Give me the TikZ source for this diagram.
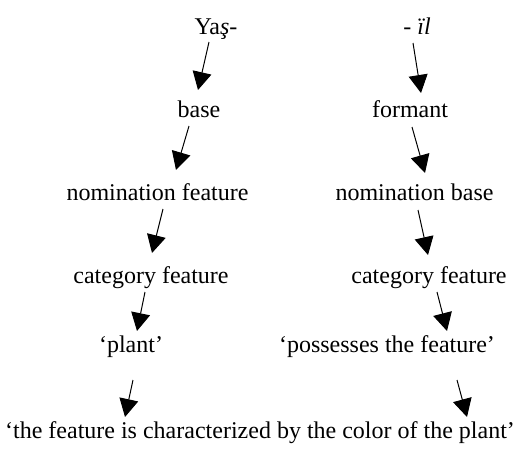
\documentclass[tikz,border=0pt]{standalone}
\usepackage{fontspec}
\setmainfont{Liberation Serif}
\usetikzlibrary{arrows.meta}

\begin{document}
\begin{tikzpicture}[x=1pt, y=-1pt, >={Triangle[length=18pt, width=19pt]},
	word/.style={anchor=base, inner sep=0pt, font=\fontsize{24}{28}\selectfont},
	link/.style={->, line width=1pt}]
	\useasboundingbox (0, 0) rectangle (521, 450);
	% left branch
	\node[word]	(yas)	at (216, 34)	{Ya\textit{ş}-};
	\node[word]	(base)	at (199, 117)	{base};
	\node[word]	(nomf)	at (157.5, 200)	{nomination feature};
	\node[word]	(catl)	at (151, 283)	{category feature};
	\node[word]	(plant)	at (131, 352)	{`plant'};
	% right branch
	\node[word]	(il)	at (417, 34)	{- \textit{ïl}};
	\node[word]	(formant)	at (410, 117)	{formant};
	\node[word]	(nomb)	at (414.5, 200)	{nomination base};
	\node[word]	(catr)	at (429, 283)	{category feature};
	\node[word]	(poss)	at (387, 352)	{`possesses the feature'};
	% meaning
	\node[word]	(colour)	at (260, 438)	{`the feature is characterized by the color of the plant'};
	\draw[link] ([shift={(-7, 8)}]yas.base) -- ([shift={(-1, -27)}]base.base);
	\draw[link] ([shift={(-10, 9)}]base.base) -- ([shift={(18.5, -30)}]nomf.base);
	\draw[link] ([shift={(5.5, 9)}]nomf.base) -- ([shift={(1, -30)}]catl.base);
	\draw[link] ([shift={(-6, 9)}]catl.base) -- ([shift={(6, -21)}]plant.base);
	\draw[link] ([shift={(2, 28)}]plant.base) -- ([shift={(-135, -21)}]colour.base);
	\draw[link] ([shift={(-4, 9)}]il.base) -- ([shift={(11, -24)}]formant.base);
	\draw[link] ([shift={(2, 10)}]formant.base) -- ([shift={(10.5, -27)}]nomb.base);
	\draw[link] ([shift={(3.5, 10)}]nomb.base) -- ([shift={(-1, -28)}]catr.base);
	\draw[link] ([shift={(8, 9)}]catr.base) -- ([shift={(60, -21)}]poss.base);
	\draw[link] ([shift={(70, 28)}]poss.base) -- ([shift={(207, -21)}]colour.base);
\end{tikzpicture}
\end{document}
